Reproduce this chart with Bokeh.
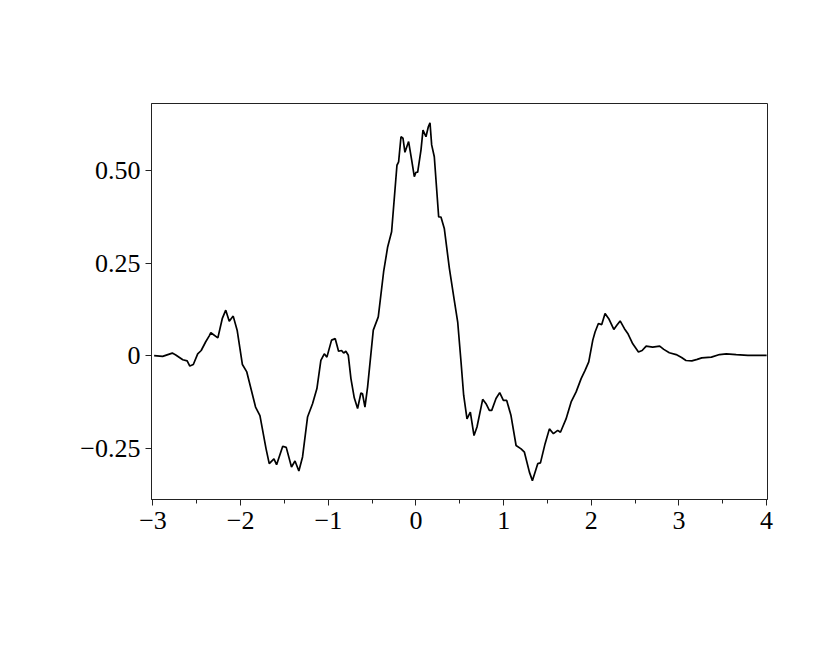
from bokeh.plotting import figure
from bokeh.models import FixedTicker
from bokeh.embed import file_html
from bokeh.resources import INLINE

# Curve values
x_vals = [-2.987, -2.89, -2.78, -2.74, -2.66, -2.61, -2.58, -2.54, -2.49, -2.45, -2.40, -2.36, -2.34, -2.26,
          -2.21, -2.17, -2.13, -2.085, -2.04, -1.98, -1.93, -1.83, -1.78, -1.71, -1.674, -1.62, -1.59,
          -1.52, -1.48, -1.42, -1.38, -1.336, -1.294, -1.237, -1.18, -1.13, -1.085, -1.046, -1.016,
          -0.963, -0.921, -0.883, -0.849, -0.825, -0.80, -0.772, -0.742, -0.704, -0.666, -0.628, -0.61,
          -0.582, -0.552, -0.487, -0.430, -0.369, -0.323, -0.278, -0.217, -0.198, -0.171, -0.148,
          -0.126, -0.084, -0.049, -0.019, 0.0, 0.019, 0.057, 0.080, 0.114, 0.141, 0.160, 0.179, 0.209,
          0.259, 0.285, 0.323, 0.381, 0.438, 0.476, 0.514, 0.544, 0.582, 0.620, 0.662, 0.696, 0.761,
          0.799, 0.837, 0.864, 0.913, 0.955, 0.997, 1.035, 1.084, 1.142, 1.199, 1.237, 1.294, 1.328,
          1.389, 1.42, 1.473, 1.522, 1.568, 1.617, 1.648, 1.712, 1.770, 1.827, 1.884, 1.929, 1.971,
          2.017, 2.043, 2.081, 2.119, 2.157, 2.199, 2.257, 2.291, 2.329, 2.378, 2.416, 2.473, 2.538,
          2.580, 2.626, 2.70, 2.78, 2.827, 2.89, 2.968, 3.03, 3.08, 3.147, 3.208, 3.26, 3.37, 3.463,
          3.54, 3.653, 3.786, 3.976, 4.0]
y_vals = [0.0, -0.002, 0.007, 0.002, -0.011, -0.014, -0.028, -0.024, 0.005, 0.014, 0.037, 0.053, 0.062, 0.048,
          0.100, 0.123, 0.093, 0.107, 0.069, -0.024, -0.044, -0.139, -0.162, -0.252, -0.292, -0.279, -0.295,
          -0.245, -0.248, -0.301, -0.285, -0.312, -0.274, -0.166, -0.130, -0.089, -0.013, 0.005, -0.004,
          0.042, 0.046, 0.012, 0.014, 0.007, 0.012, 0.001, -0.062, -0.114, -0.143, -0.101, -0.103,
          -0.139, -0.085, 0.069, 0.105, 0.227, 0.294, 0.335, 0.515, 0.524, 0.592, 0.588,
          0.550, 0.579, 0.529, 0.484, 0.496, 0.496, 0.556, 0.610, 0.592, 0.619, 0.630, 0.570, 0.538,
          0.375, 0.375, 0.344, 0.236, 0.148, 0.091, -0.017, -0.107, -0.171, -0.153, -0.216, -0.193, -0.118,
          -0.130, -0.148, -0.148, -0.116, -0.100, -0.121, -0.121, -0.162, -0.243, -0.252, -0.261, -0.315, -0.338,
          -0.292, -0.290, -0.238, -0.198, -0.211, -0.202, -0.207, -0.171, -0.125, -0.098, -0.062, -0.040, -0.017,
          0.042, 0.064, 0.087, 0.084, 0.114, 0.100, 0.071, 0.082, 0.094, 0.073, 0.060, 0.032, 0.010,
          0.014, 0.026, 0.023, 0.026, 0.017, 0.008, 0.003, -0.005, -0.013, -0.014, -0.010, -0.006, -0.004, 0.003,
          0.005, 0.003, 0.001, 0.001, 0.001]

x_ticks = [-3, -2, -1, 0, 1, 2, 3, 4]
x_tick_labels = ["\u22123", "\u22122", "\u22121", "0", "1", "2", "3", "4"]
y_ticks = [-0.25, 0, 0.25, 0.5]
y_tick_labels = ["\u22120.25", "0", "0.25", "0.50"]

p = figure(width=808, height=648, output_backend="svg", toolbar_location=None,
           x_range=(-3.017, 4.01), y_range=(-0.389, 0.682),
           min_border_left=151, min_border_right=41, min_border_top=103, min_border_bottom=149)
p.background_fill_color = "white"
p.border_fill_color = "white"
p.outline_line_color = "#222222"
p.outline_line_width = 1
p.xgrid.visible = False
p.ygrid.visible = False

p.line(x_vals, y_vals, line_color="black", line_width=1.7)

font = "Liberation Serif"
p.xaxis.ticker = FixedTicker(ticks=x_ticks, minor_ticks=[-2.5, -1.5, -0.5, 0.5, 1.5, 2.5, 3.5])
p.xaxis.major_label_overrides = {t: l for t, l in zip(x_ticks, x_tick_labels)}
p.yaxis.ticker = FixedTicker(ticks=y_ticks)
p.yaxis.major_label_overrides = {t: l for t, l in zip(y_ticks, y_tick_labels)}

for ax in (p.xaxis[0], p.yaxis[0]):
    ax.axis_line_color = "#222222"
    ax.major_tick_line_color = "#222222"
    ax.minor_tick_line_color = "#222222"
    ax.major_tick_in = 0
    ax.minor_tick_in = 0
    ax.major_label_text_font = font
    ax.major_label_text_font_size = "26px"
    ax.major_label_text_color = "black"

p.xaxis.major_tick_out = 6
p.xaxis.minor_tick_out = 4
p.xaxis.major_label_standoff = 6
p.yaxis.major_tick_out = 6
p.yaxis.minor_tick_line_color = None
p.yaxis.major_label_standoff = 5

open("out.html", "w").write(file_html(p, INLINE))
